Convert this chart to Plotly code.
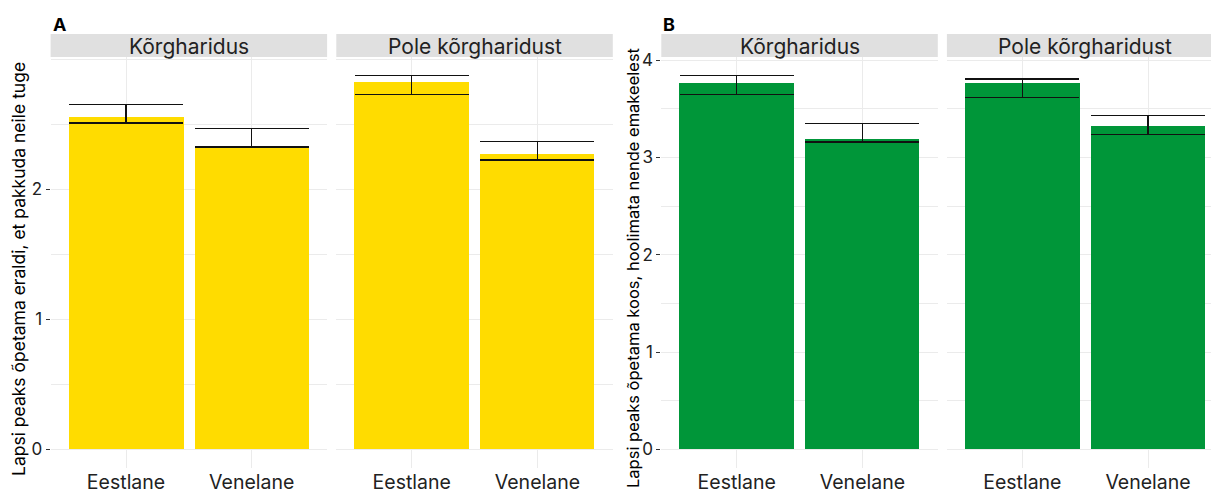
import plotly.graph_objects as go

# ---------------- data ----------------
categories = ["Eestlane", "Venelane"]
facets = ["Kõrgharidus", "Pole kõrgharidust"]

# Panel A: "Lapsi peaks õpetama eraldi, et pakkuda neile tuge"
a_korg_mean = [2.558, 2.335]
a_korg_upper = [2.655, 2.468]
a_korg_lower = [2.512, 2.327]
a_pole_mean = [2.827, 2.273]
a_pole_upper = [2.875, 2.368]
a_pole_lower = [2.732, 2.225]

# Panel B: "Lapsi peaks õpetama koos, hoolimata nende emakeelest"
b_korg_mean = [3.769, 3.195]
b_korg_upper = [3.841, 3.352]
b_korg_lower = [3.649, 3.157]
b_pole_mean = [3.769, 3.328]
b_pole_upper = [3.807, 3.434]
b_pole_lower = [3.615, 3.236]

y_title_a = "Lapsi peaks õpetama eraldi, et pakkuda neile tuge"
y_title_b = "Lapsi peaks õpetama koos, hoolimata nende emakeelest"
a_ticks = [0, 1, 2]
b_ticks = [0, 1, 2, 3, 4]

# ---------------- styling / layout ----------------
W, H = 1211, 492
YELLOW = "#FFDC00"
GREEN = "#009639"
GRID = "#EBEBEB"
STRIP = "#E0E0E0"
TXT = "#222222"
FONT = "Inter"

def px_x(p):
    return p / W

def px_y(p):
    return (H - p) / H

PLOT_TOP, PLOT_BOT = 57, 468
STRIP_TOP = 34
y_dom = [px_y(PLOT_BOT), px_y(PLOT_TOP)]

unit = 125.7
panels = [
    (1, 50.6, 327.1, a_korg_mean, a_korg_upper, a_korg_lower, YELLOW, "A"),
    (2, 336.3, 612.8, a_pole_mean, a_pole_upper, a_pole_lower, YELLOW, "A"),
    (3, 661.3, 937.8, b_korg_mean, b_korg_upper, b_korg_lower, GREEN, "B"),
    (4, 946.9, 1211.0, b_pole_mean, b_pole_upper, b_pole_lower, GREEN, "B"),
]

a_max = max(a_korg_upper + a_pole_upper)
b_max = max(b_korg_upper + b_pole_upper)
a_range = [-0.05 * a_max, a_max * 1.05]
b_range = [-0.05 * b_max, b_max * 1.05]

fig = go.Figure()
layout = dict(
    width=W, height=H,
    margin=dict(l=0, r=0, t=0, b=0, autoexpand=False),
    paper_bgcolor="white", plot_bgcolor="white",
    showlegend=False,
    font=dict(family=FONT, color=TXT),
    bargap=0,
)

shapes = []
annotations = []

for idx, left, right, mean, upper, lower, color, grp in panels:
    xs = "x" if idx == 1 else f"x{idx}"
    ys = "y" if idx == 1 else f"y{idx}"
    err_plus = [u - m for u, m in zip(upper, mean)]
    err_minus = [m - l for m, l in zip(mean, lower)]
    fig.add_trace(go.Bar(
        x=categories, y=mean, xaxis=xs, yaxis=ys,
        marker=dict(color=color, line=dict(width=0)),
        width=0.91,
        error_y=dict(type="data", symmetric=False, array=err_plus,
                     arrayminus=err_minus, color="#111111",
                     thickness=1.5, width=57),
        hoverinfo="skip",
    ))
    xr_end = -0.6 + (right - left) / unit
    xkey = "xaxis" if idx == 1 else f"xaxis{idx}"
    ykey = "yaxis" if idx == 1 else f"yaxis{idx}"
    layout[xkey] = dict(
        domain=[px_x(left), px_x(right)], anchor=ys,
        type="category", categoryorder="array", categoryarray=categories,
        range=[-0.6, xr_end], autorange=False, automargin=False,
        showgrid=True, gridcolor=GRID, gridwidth=1.3,
        showline=False, zeroline=False, ticks="",
        ticklabelstandoff=0,
        tickfont=dict(size=19.5, color=TXT, family=FONT),
        fixedrange=True,
    )
    first = idx in (1, 3)
    yr = a_range if grp == "A" else b_range
    tv = a_ticks if grp == "A" else b_ticks
    layout[ykey] = dict(
        domain=y_dom, anchor=xs, range=yr, autorange=False, automargin=False,
        tickvals=tv, ticktext=[str(t) for t in tv],
        showgrid=True, gridcolor=GRID, gridwidth=1.3,
        minor=dict(dtick=0.5, tick0=0, showgrid=True, gridcolor=GRID, gridwidth=0.8, ticks=""),
        zeroline=False, showline=False,
        ticks="outside" if first else "", ticklen=4, tickcolor="#333333", tickwidth=1.2,
        showticklabels=first,
        tickfont=dict(size=17, color=TXT, family=FONT),
        fixedrange=True,
    )
    shapes.append(dict(type="rect", xref="paper", yref="paper",
                       x0=px_x(left), x1=px_x(right),
                       y0=px_y(PLOT_TOP), y1=px_y(STRIP_TOP),
                       fillcolor=STRIP, line=dict(width=0), layer="below"))
    full_right = left + 2.2 * unit
    annotations.append(dict(
        text=facets[(idx - 1) % 2], xref="paper", yref="paper",
        x=px_x((left + full_right) / 2), y=px_y((STRIP_TOP + PLOT_TOP) / 2 + 0.5),
        xanchor="center", yanchor="middle", showarrow=False,
        font=dict(size=21, color=TXT, family=FONT),
    ))

annotations.append(dict(text="<b>A</b>", xref="paper", yref="paper",
                        x=px_x(51), y=px_y(24), xanchor="left", yanchor="middle",
                        showarrow=False, font=dict(size=18, color="#000", family=FONT)))
annotations.append(dict(text="<b>B</b>", xref="paper", yref="paper",
                        x=px_x(661), y=px_y(24), xanchor="left", yanchor="middle",
                        showarrow=False, font=dict(size=18, color="#000", family=FONT)))
annotations.append(dict(text=y_title_a, xref="paper", yref="paper",
                        x=px_x(18), y=px_y(269), xanchor="center", yanchor="middle",
                        textangle=-90, showarrow=False,
                        font=dict(size=17.5, color="#000", family=FONT)))
annotations.append(dict(text=y_title_b, xref="paper", yref="paper",
                        x=px_x(633), y=px_y(268), xanchor="center", yanchor="middle",
                        textangle=-90, showarrow=False,
                        font=dict(size=16.5, color="#000", family=FONT)))

layout["shapes"] = shapes
layout["annotations"] = annotations
fig.update_layout(**layout)
fig.write_html("out.html",
               config={"displayModeBar": False},
               post_script="document.body.style.margin='0';document.body.style.overflow='hidden';")
